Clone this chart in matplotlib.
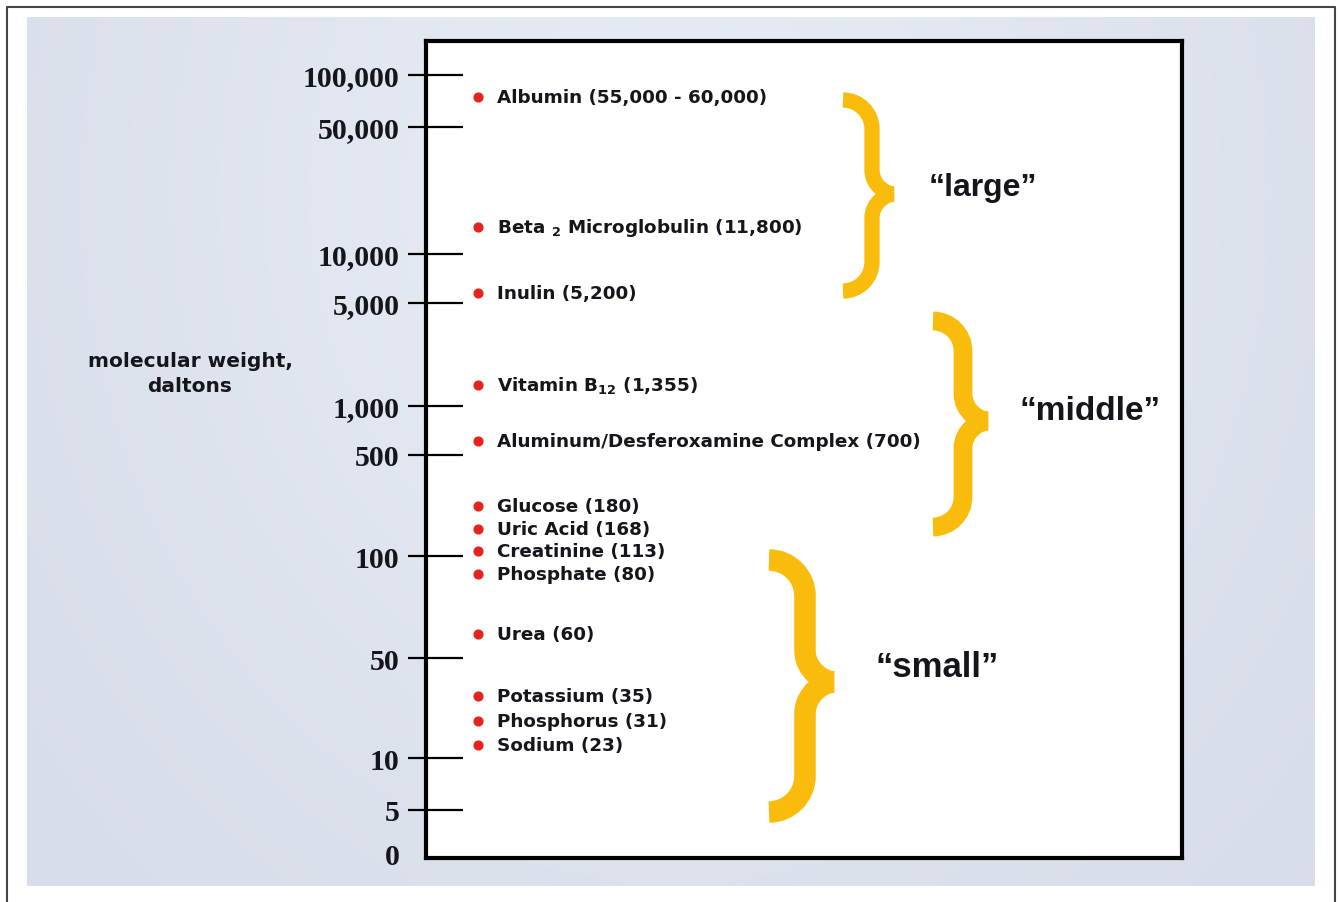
import numpy as np
import matplotlib
matplotlib.use('Agg')
import matplotlib.pyplot as plt
from matplotlib.path import Path
from matplotlib.patches import PathPatch

plt.rcParams['mathtext.fontset'] = 'dejavusans'
plt.rcParams['mathtext.default'] = 'bf'

# axis ticks (the original axis is a hand drawn, uneven log-like scale)
tick_vals = [0, 5, 10, 50, 100, 500, 1000, 5000, 10000, 50000, 100000]
tick_labels = ['0', '5', '10', '50', '100', '500', '1,000', '5,000',
               '10,000', '50,000', '100,000']

# molecules and where their dots sit on that axis
names = ['Albumin (55,000 - 60,000)',
         r'Beta ${}_2$ Microglobulin (11,800)',
         'Inulin (5,200)',
         r'Vitamin B$_{12}$ (1,355)',
         'Aluminum/Desferoxamine Complex (700)',
         'Glucose (180)',
         'Uric Acid (168)',
         'Creatinine (113)',
         'Phosphate (80)',
         'Urea (60)',
         'Potassium (35)',
         'Phosphorus (31)',
         'Sodium (23)']
dot_pos = [74000, 14000, 5750, 1385, 610, 222, 154, 109, 89, 59, 27.7, 18.5, 12.5]

groups = ['\u201clarge\u201d', '\u201cmiddle\u201d', '\u201csmall\u201d']

# layout: pixel rows of the ticks in the 1338x903 frame
TICK_PIX = [855, 810.7, 759, 659.3, 557.3, 455.7, 406.7, 304, 255, 127.7, 76]
W, H = 1338, 903
AX_L, AX_R, AX_T, AX_B = 426, 1182, 42, 859

G = np.log10(np.array(tick_vals, float) + 1)
P = np.array(TICK_PIX, float)
lo_slope = (P[1] - P[0]) / (G[1] - G[0])
hi_slope = (P[-1] - P[-2]) / (G[-1] - G[-2])
G_ext = np.concatenate([[-1.0], G, [6.0]])
P_ext = np.concatenate([[P[0] - lo_slope], P, [P[-1] + hi_slope * (6.0 - G[-1])]])


def fwd(v):
    v = np.asarray(v, float)
    g = np.log10(np.clip(v, -0.9, None) + 1)
    return -np.interp(g, G_ext, P_ext)


def inv(p):
    p = np.asarray(p, float)
    g = np.interp(-p, P_ext[::-1], G_ext[::-1])
    return 10 ** g - 1


INK = '#15161c'
GOLD = '#F9BC0C'
RED = '#E5231E'

fig = plt.figure(figsize=(W / 100, H / 100), dpi=100)
fig.patch.set_facecolor('white')

# background slide
bg = fig.add_axes([0, 0, 1, 1], zorder=0)
bg.set_xlim(0, W)
bg.set_ylim(H, 0)
bg.axis('off')
yy, xx = np.mgrid[0:100, 0:150]
glow = np.exp(-(((xx - 75) / 70.0) ** 2 + ((yy - 20) / 80.0) ** 2))
base = np.array([214, 220, 232]) / 255.0
light = np.array([230, 235, 243]) / 255.0
img = base[None, None, :] + (light - base)[None, None, :] * glow[:, :, None]
bg.imshow(img, extent=(27, 1315, 887, 18), aspect='auto', interpolation='bicubic')
bg.plot([7, 7, 1335, 1335], [H, 8, 8, H], color='#444444', lw=1.5)

# main axis box
ax = fig.add_axes([AX_L / W, (H - AX_B) / H, (AX_R - AX_L) / W, (AX_B - AX_T) / H], zorder=1)
ax.set_facecolor('white')
ax.set_yscale('function', functions=(fwd, inv))
ax.set_xlim(0, 1)
ax.set_ylim(inv(-AX_B), inv(-AX_T))
for s in ax.spines.values():
    s.set_linewidth(3)
    s.set_color('black')
ax.set_xticks([])
ax.set_yticks(tick_vals, labels=tick_labels)
ax.yaxis.set_minor_locator(matplotlib.ticker.NullLocator())
ax.tick_params(axis='y', length=0, pad=19, labelsize=21.5, labelcolor=INK)
for lab in ax.get_yticklabels():
    lab.set_family('Liberation Serif')
    lab.set_weight('bold')
ax.hlines(tick_vals[1:], (407.7 - AX_L) / (AX_R - AX_L), (463 - AX_L) / (AX_R - AX_L),
          transform=ax.get_yaxis_transform(), clip_on=False, color='black', lw=1.6, zorder=5)

ax.set_ylabel('molecular weight,\ndaltons', rotation=0, fontsize=14.5, fontweight='bold',
              color=INK, ha='center', va='center', linespacing=1.45)
ax.yaxis.set_label_coords((190 - AX_L) / (AX_R - AX_L), (AX_B - 374) / (AX_B - AX_T))

DOT_X = (478 - AX_L) / (AX_R - AX_L)
TXT_X = (497 - AX_L) / (AX_R - AX_L)
ax.scatter(np.full(len(dot_pos), DOT_X), dot_pos, s=40, color=RED, zorder=4)
for n, v in zip(names, dot_pos):
    ax.text(TXT_X, v, n, fontsize=13.2, fontweight='bold', color=INK,
            family='DejaVu Sans', ha='left', va='center')

# overlay with braces and group names
ov = fig.add_axes([0, 0, 1, 1], zorder=3)
ov.set_xlim(0, W)
ov.set_ylim(H, 0)
ov.axis('off')
ov.patch.set_alpha(0)


def brace(xl, xs, xt, yt, ym, yb, lw):
    r = xs - xl
    h = (xt - xs) * 1.1
    k = 0.552
    verts = [(xl, yt),
             (xl + k * r, yt), (xs, yt + r - k * r), (xs, yt + r),
             (xs, ym - h),
             (xs, ym - h * 0.35), (xt - (xt - xs) * 0.35, ym), (xt, ym),
             (xt - (xt - xs) * 0.35, ym), (xs, ym + h * 0.35), (xs, ym + h),
             (xs, yb - r),
             (xs, yb - r + k * r), (xl + k * r, yb), (xl, yb)]
    codes = ([Path.MOVETO] + [Path.CURVE4] * 3 + [Path.LINETO] + [Path.CURVE4] * 6
             + [Path.LINETO] + [Path.CURVE4] * 3)
    ov.add_patch(PathPatch(Path(verts, codes), facecolor='none', edgecolor=GOLD,
                           lw=lw, capstyle='butt', joinstyle='miter'))


brace(843, 872, 894, 101, 195, 292, 11)
brace(933, 963, 988, 322, 422, 528, 13.5)
brace(769, 805, 834, 561, 683, 813, 15.5)

ov.text(983, 188, groups[0], fontsize=23, fontweight='bold', color=INK,
        family='Liberation Sans', ha='center', va='center')
ov.text(1090, 412, groups[1], fontsize=24, fontweight='bold', color=INK,
        family='Liberation Sans', ha='center', va='center')
ov.text(937, 668, groups[2], fontsize=25, fontweight='bold', color=INK,
        family='Liberation Sans', ha='center', va='center')

fig.savefig('out.png', dpi=100)
